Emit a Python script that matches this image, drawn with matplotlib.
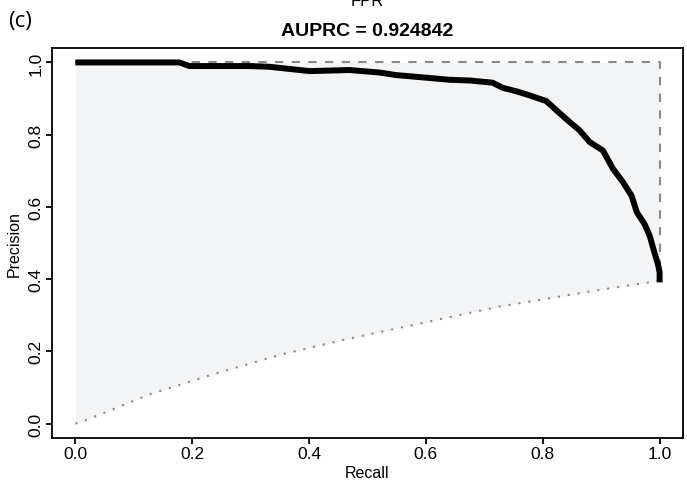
import matplotlib
matplotlib.use('Agg')
import matplotlib.pyplot as plt

plt.rcParams['font.family'] = ['Liberation Sans', 'DejaVu Sans']

# PR curve
recall = [0.0, 0.178, 0.195, 0.298, 0.332, 0.401, 0.469, 0.521, 0.549, 0.606,
          0.640, 0.675, 0.714, 0.731, 0.755, 0.777, 0.806, 0.823, 0.846, 0.863,
          0.880, 0.903, 0.920, 0.937, 0.952, 0.961, 0.974, 0.983, 0.991, 0.997,
          1.0, 1.0]
precision = [1.0, 1.0, 0.990, 0.990, 0.988, 0.976, 0.979, 0.972, 0.965, 0.957,
             0.952, 0.950, 0.944, 0.930, 0.920, 0.909, 0.893, 0.868, 0.835, 0.812,
             0.780, 0.756, 0.706, 0.669, 0.631, 0.585, 0.553, 0.520, 0.474, 0.442,
             0.419, 0.391]

# max / min curves
max_recall = [0.0, 1.0, 1.0]
max_precision = [1.0, 1.0, 0.397]
min_recall = [0.0, 0.010, 0.127, 0.241, 0.354, 0.386, 0.457, 0.555, 0.726, 0.897, 0.986, 1.0]
min_precision = [0.0, 0.004, 0.081, 0.139, 0.192, 0.204, 0.231, 0.265, 0.324, 0.370, 0.392, 0.397]

ticks = [0.0, 0.2, 0.4, 0.6, 0.8, 1.0]
tick_labels = ['0.0', '0.2', '0.4', '0.6', '0.8', '1.0']

fig = plt.figure(figsize=(6.87, 4.89), dpi=100)
ax = fig.add_axes([52 / 687, 1 - 439 / 489, 631 / 687, 390 / 489])

ax.fill_between(min_recall, min_precision, 1.0, color='#f3f4f6', lw=0, zorder=1)
ax.plot(max_recall, max_precision, color='#888888', lw=1.5, ls=(0, (4, 4)), zorder=2)
ax.plot(min_recall, min_precision, color='#888888', lw=1.5, ls=(0, (1, 3.8)), zorder=2)
ax.plot(recall, precision, color='black', lw=4.3, solid_capstyle='butt',
        solid_joinstyle='round', zorder=3)

ax.set_xlim(-0.04, 1.04)
ax.set_ylim(-0.04, 1.04)
ax.set_xticks(ticks)
ax.set_xticklabels(tick_labels)
ax.set_yticks(ticks)
ax.set_yticklabels(tick_labels, rotation=90, va='center')
ax.tick_params(direction='out', length=4, width=1.3, labelsize=12.5, pad=2)
for s in ax.spines.values():
    s.set_linewidth(1.3)

ax.set_xlabel('Recall', fontsize=11.5, labelpad=3)
ax.set_ylabel('Precision', fontsize=11.5, labelpad=5)

fig.text(367 / 687, 1 - 32 / 489, 'AUPRC = 0.924842', ha='center', va='center',
         fontsize=14, fontweight='bold')
fig.text(367 / 687, 1 - 2 / 489, 'FPR', ha='center', va='center', fontsize=12)
fig.text(8 / 687, 1 - 21 / 489, '(c)', ha='left', va='center', fontsize=16,
         family=['Open Sans', 'DejaVu Sans'])

fig.savefig('out.png', dpi=100)
